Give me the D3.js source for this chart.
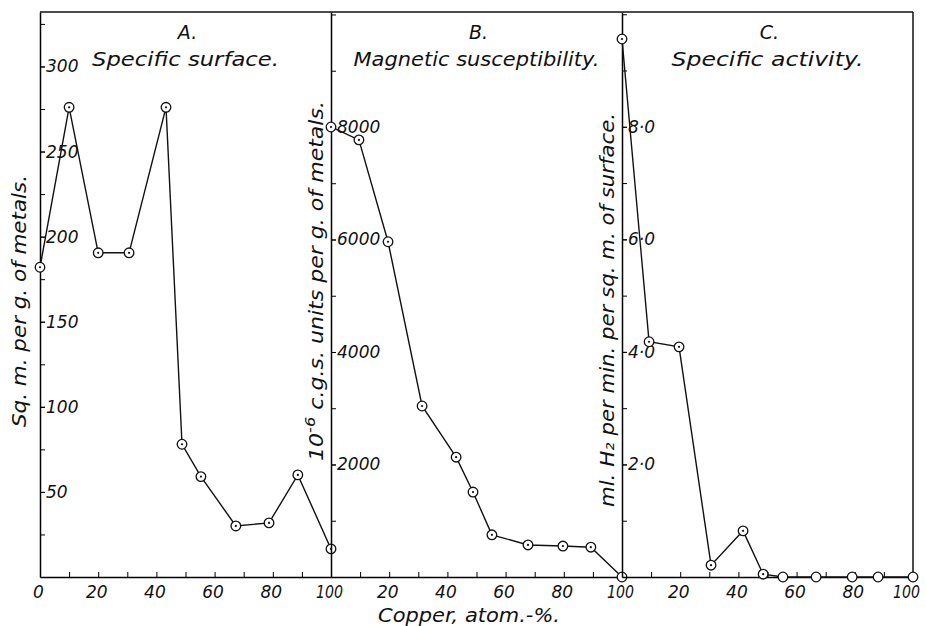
<!DOCTYPE html>
<html>
<head>
<meta charset="utf-8">
<script src="https://cdn.jsdelivr.net/npm/d3@7"></script>
<style>
  body { margin: 0; background: #fff; }
  svg text { font-family: "DejaVu Sans", sans-serif; font-style: italic; fill: #111; }
</style>
</head>
<body>
<div id="chart"></div>
<script>
// values
const copperA = [0, 10, 20, 30.6, 43.3, 48.8, 55.3, 67.3, 78.7, 88.6, 100];
const surfaceA = [182, 276, 190.5, 190.5, 276, 78, 59, 30, 31.8, 60, 16.5];
const copperB = [0, 9.6, 19.6, 31.3, 43, 48.8, 55.3, 67.7, 79.7, 89.3, 100];
const susceptibilityB = [8000, 7770, 5960, 3040, 2130, 1510, 750, 570, 550, 530, 0];
const copperC = [0, 9.3, 19.6, 30.6, 41.6, 48.5, 55.3, 66.7, 79.1, 88, 100];
const activityC = [9.56, 4.18, 4.09, 0.21, 0.82, 0.05, 0, 0, 0, 0, 0];

const yTicksA = [50, 100, 150, 200, 250, 300];
const yTicksB = [2000, 4000, 6000, 8000];
const yTicksC = [2, 4, 6, 8];
const xTicksFirst = [0, 20, 40, 60, 80, 100];
const xTicksRest = [20, 40, 60, 80, 100];

const panels = [
    {letter: 'A.', title: 'Specific surface.', titleLen: 187, x: copperA, y: surfaceA, yMax: 332,
     ticks: yTicksA, minor: 25, fmt: d => d, xTicks: xTicksFirst},
    {letter: 'B.', title: 'Magnetic susceptibility.', titleLen: 246, x: copperB, y: susceptibilityB, yMax: 10044,
     ticks: yTicksB, minor: 1000, fmt: d => d, xTicks: xTicksRest},
    {letter: 'C.', title: 'Specific activity.', titleLen: 192, x: copperC, y: activityC, yMax: 10.04,
     ticks: yTicksC, minor: 1, fmt: d => d + '\u00b70', xTicks: xTicksRest}
];

const W = 926, H = 626;
const plotTop = 12, plotBottom = 577;
const edges = [40, 331, 622, 913];

const svg = d3.select('#chart').append('svg')
    .attr('width', W)
    .attr('height', H);

// top and right frame
svg.append('line')
    .attr('x1', edges[0]).attr('x2', edges[3])
    .attr('y1', plotTop).attr('y2', plotTop)
    .attr('stroke', '#111').attr('stroke-width', 1.5);
svg.append('line')
    .attr('x1', edges[3]).attr('x2', edges[3])
    .attr('y1', plotTop).attr('y2', plotBottom)
    .attr('stroke', '#111').attr('stroke-width', 1.5);

panels.forEach((p, i) => {
    const x = d3.scaleLinear().domain([0, 100]).range([edges[i], edges[i + 1]]);
    const y = d3.scaleLinear().domain([0, p.yMax]).range([plotBottom, plotTop]);
    const cx = (edges[i] + edges[i + 1]) / 2;
    const g = svg.append('g');

    // minor y ticks
    g.append('g')
        .attr('transform', `translate(${edges[i]},0)`)
        .call(d3.axisRight(y).tickValues(d3.range(p.minor, p.yMax, p.minor))
            .tickSize(5).tickSizeOuter(0).tickFormat(''))
        .call(a => a.select('.domain').attr('stroke-width', 1.5));

    // labelled y ticks
    g.append('g')
        .attr('transform', `translate(${edges[i]},0)`)
        .call(d3.axisRight(y).tickValues(p.ticks).tickSize(5).tickSizeOuter(0)
            .tickPadding(1).tickFormat(p.fmt))
        .call(a => a.select('.domain').remove())
        .call(a => a.selectAll('text').attr('font-size', 17).style('font-family', null));

    // minor x ticks
    g.append('g')
        .attr('transform', `translate(0,${plotBottom})`)
        .call(d3.axisBottom(x).tickValues(d3.range(10, 100, 10))
            .tickSize(-5).tickSizeOuter(0).tickFormat(''))
        .call(a => a.select('.domain').attr('stroke-width', 1.5));

    g.append('g')
        .attr('transform', `translate(-2,${plotBottom})`)
        .call(d3.axisBottom(x).tickValues(p.xTicks).tickSize(0).tickPadding(9))
        .call(a => a.select('.domain').remove())
        .call(a => a.selectAll('text').attr('font-size', 17).style('font-family', null)
            .filter(d => d === 100)
            .attr('textLength', 27)
            .attr('lengthAdjust', 'spacingAndGlyphs')
            .attr('dx', i === panels.length - 1 ? -5 : 0));

    // titles
    g.append('text')
        .attr('x', cx + 2).attr('y', 39)
        .attr('text-anchor', 'middle')
        .attr('font-size', 19)
        .text(p.letter);
    g.append('text')
        .attr('x', cx).attr('y', 66)
        .attr('text-anchor', 'middle')
        .attr('font-size', 19)
        .attr('textLength', p.titleLen)
        .attr('lengthAdjust', 'spacingAndGlyphs')
        .text(p.title);

    const pts = p.x.map((d, k) => [x(d), y(p.y[k])]);
    g.append('path')
        .attr('d', d3.line()(pts))
        .attr('fill', 'none')
        .attr('stroke', '#111')
        .attr('stroke-width', 1.4);

    g.selectAll('circle.mark')
        .data(pts)
        .join('circle')
        .attr('class', 'mark')
        .attr('cx', d => d[0]).attr('cy', d => d[1])
        .attr('r', 4.8)
        .attr('fill', '#fff')
        .attr('stroke', '#111')
        .attr('stroke-width', 1.3);

    g.selectAll('circle.dot')
        .data(pts.filter((d, k) => p.y[k] > 0.02))
        .join('circle')
        .attr('class', 'dot')
        .attr('cx', d => d[0]).attr('cy', d => d[1])
        .attr('r', 1.1)
        .attr('fill', '#111');
});

// y-axis titles
svg.append('text')
    .attr('transform', 'translate(26,301) rotate(-90)')
    .attr('text-anchor', 'middle')
    .attr('font-size', 19)
    .attr('textLength', 252)
    .attr('lengthAdjust', 'spacingAndGlyphs')
    .text('Sq. m. per g. of metals.');

const bLabel = svg.append('text')
    .attr('transform', 'translate(323,281) rotate(-90)')
    .attr('text-anchor', 'middle')
    .attr('font-size', 19)
    .attr('textLength', 360)
    .attr('lengthAdjust', 'spacingAndGlyphs');
bLabel.append('tspan').text('10');
bLabel.append('tspan').attr('dy', -8).attr('font-size', 14).text('-6');
bLabel.append('tspan').attr('dy', 8).text(' c.g.s. units per g. of metals.');

svg.append('text')
    .attr('transform', 'translate(614,310) rotate(-90)')
    .attr('text-anchor', 'middle')
    .attr('font-size', 19)
    .attr('textLength', 394)
    .attr('lengthAdjust', 'spacingAndGlyphs')
    .text('ml. H\u2082 per min. per sq. m. of surface.');

// x-axis title
svg.append('text')
    .attr('x', 469).attr('y', 622)
    .attr('text-anchor', 'middle')
    .attr('font-size', 19)
    .attr('textLength', 182)
    .attr('lengthAdjust', 'spacingAndGlyphs')
    .text('Copper, atom.-%.');
</script>
</body>
</html>
